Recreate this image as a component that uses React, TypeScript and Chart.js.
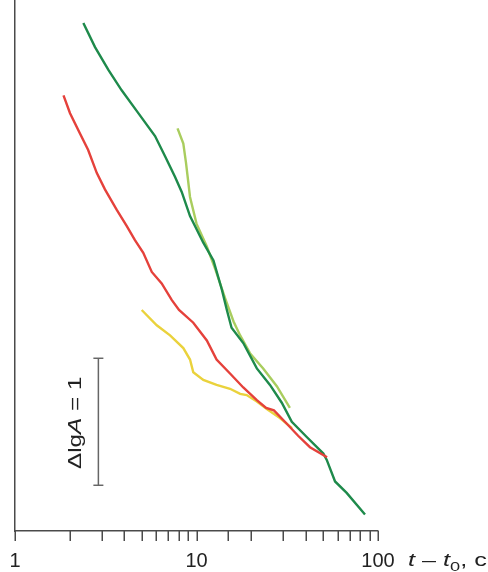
import React, { useEffect, useRef } from "react";
import { Chart, registerables } from "chart.js";

Chart.register(...registerables);

// x values: t - t0 (s), y values: lg A (arbitrary offset)
const darkGreenX = [2.38, 2.76, 3.27, 3.87, 4.78, 5.91, 6.71, 7.61, 8.29, 9.21, 10.9, 12.4, 13.8, 14.7, 15.6, 18.1, 21.5, 25.4, 29.5, 33.5, 40.5, 50.0, 52.2, 58.0, 67.2, 84.8];
const darkGreenY = [4.0, 3.81, 3.63, 3.47, 3.29, 3.11, 2.95, 2.79, 2.67, 2.48, 2.27, 2.13, 1.9, 1.74, 1.6, 1.48, 1.28, 1.15, 1.01, 0.86, 0.74, 0.61, 0.56, 0.39, 0.3, 0.13];

const lightGreenX = [7.86, 8.46, 8.75, 8.92, 9.21, 10.0, 11.4, 12.7, 14.4, 16.0, 17.4, 19.7, 23.3, 27.7, 32.7];
const lightGreenY = [3.17, 3.05, 2.9, 2.8, 2.63, 2.42, 2.24, 2.06, 1.83, 1.65, 1.54, 1.4, 1.28, 1.14, 0.97];

const redX = [1.85, 2.01, 2.28, 2.53, 2.82, 3.13, 3.63, 4.13, 4.58, 5.09, 5.67, 6.43, 7.3, 8.01, 9.6, 11.4, 12.9, 15.3, 18.1, 21.5, 24.2, 26.7, 30.7, 36.3, 42.2, 52.4];
const redY = [3.43, 3.29, 3.13, 3.0, 2.82, 2.69, 2.53, 2.4, 2.29, 2.19, 2.04, 1.95, 1.82, 1.74, 1.64, 1.5, 1.35, 1.24, 1.13, 1.03, 0.97, 0.95, 0.86, 0.75, 0.66, 0.58];

const yellowX = [4.99, 6.04, 7.15, 8.46, 9.21, 9.6, 10.9, 12.9, 15.3, 17.4, 18.9, 21.5, 24.4, 28.8, 33.6];
const yellowY = [1.74, 1.62, 1.54, 1.44, 1.35, 1.25, 1.19, 1.15, 1.12, 1.08, 1.07, 1.02, 0.96, 0.89, 0.81];

// scale bar: ΔlgA = 1
const scaleBarX = [2.88, 2.88];
const scaleBarY = [0.36, 1.36];

const xTickLabels = [1, 10, 100];
const X_MIN = 1;
const X_MAX = 100;
const Y_MIN = 0;
const Y_MAX = 4.181;

const FONT = "'Liberation Sans', Arial, sans-serif";
const AXIS_COLOR = "#4a4a4a";

const toPts = (xs: number[], ys: number[]) => xs.map((x, i) => ({ x, y: ys[i] }));

type Seg = { t: string; it?: boolean; sub?: boolean };

function drawRich(ctx: CanvasRenderingContext2D, segs: Seg[], size: number, align: "left" | "center") {
  const fontFor = (s: Seg) => `${s.it ? "italic " : ""}${s.sub ? Math.round(size * 0.7) : size}px ${FONT}`;
  let total = 0;
  for (const s of segs) {
    ctx.font = fontFor(s);
    total += ctx.measureText(s.t).width;
  }
  let x = align === "center" ? -total / 2 : 0;
  ctx.textBaseline = "middle";
  ctx.textAlign = "left";
  for (const s of segs) {
    ctx.font = fontFor(s);
    ctx.fillText(s.t, x, s.sub ? size * 0.35 : 0);
    x += ctx.measureText(s.t).width;
  }
}

const extraPlugin = {
  id: "extraText",
  afterDraw(chart: any) {
    const ctx: CanvasRenderingContext2D = chart.ctx;
    const xs = chart.scales.x;
    const ys = chart.scales.y;
    const bottom = chart.chartArea.bottom;

    // tick marks below the x axis, from the scale's own ticks
    ctx.save();
    ctx.strokeStyle = AXIS_COLOR;
    ctx.lineWidth = 1.5;
    ctx.beginPath();
    for (const t of xs.ticks) {
      const px = Math.round(xs.getPixelForValue(t.value)) + 0.25;
      ctx.moveTo(px, bottom);
      ctx.lineTo(px, bottom + 10);
    }
    ctx.stroke();
    ctx.restore();

    // rotated scale-bar label
    const bx = xs.getPixelForValue(scaleBarX[0]);
    const by = (ys.getPixelForValue(scaleBarY[0]) + ys.getPixelForValue(scaleBarY[1])) / 2;
    ctx.save();
    ctx.fillStyle = "#222";
    ctx.translate(bx - 22, by + 1);
    ctx.rotate(-Math.PI / 2);
    ctx.scale(1.35, 1);
    drawRich(ctx, [{ t: "\u0394lg" }, { t: "A", it: true }, { t: " = 1" }], 18, "center");
    ctx.restore();

    // x axis title
    ctx.save();
    ctx.fillStyle = "#222";
    ctx.translate(chart.chartArea.right + 30, 561);
    ctx.scale(1.4, 1);
    drawRich(ctx, [{ t: "t", it: true }, { t: " \u2013 " }, { t: "t", it: true }, { t: "0", sub: true }, { t: ", c" }], 18, "left");
    ctx.restore();
  },
};

export default function App() {
  const ref = useRef<HTMLCanvasElement | null>(null);
  useEffect(() => {
    if (!ref.current) return;
    const lineDs = (label: string, xs: number[], ys: number[], color: string, order: number) => ({
      label,
      data: toPts(xs, ys),
      borderColor: color,
      backgroundColor: color,
      borderWidth: 2.4,
      pointRadius: 0,
      tension: 0,
      fill: false,
      order,
    });
    const chart = new Chart(ref.current, {
      type: "line",
      data: {
        datasets: [
          lineDs("red", redX, redY, "#e5413b", 1),
          lineDs("darkgreen", darkGreenX, darkGreenY, "#1e8a4b", 2),
          lineDs("lightgreen", lightGreenX, lightGreenY, "#a9cd5e", 3),
          lineDs("yellow", yellowX, yellowY, "#ead23c", 4),
          {
            label: "scale",
            data: toPts(scaleBarX, scaleBarY),
            borderColor: "#666",
            backgroundColor: "#666",
            borderWidth: 1.5,
            pointStyle: "line",
            pointRadius: 5,
            pointBorderWidth: 1.5,
            pointBorderColor: "#666",
            order: 5,
          } as any,
        ],
      },
      options: {
        animation: false,
        responsive: false,
        devicePixelRatio: 1,
        layout: { autoPadding: false, padding: { left: 15, right: 110, top: 0, bottom: 0 } },
        plugins: { legend: { display: false }, tooltip: { enabled: false } },
        scales: {
          x: {
            type: "logarithmic",
            min: X_MIN,
            max: X_MAX,
            grid: {
              display: true,
              drawOnChartArea: false,
              drawTicks: true,
              tickLength: 20,
              color: AXIS_COLOR,
              tickColor: "rgba(0,0,0,0)",
              lineWidth: 1.5,
            },
            border: { display: true, color: AXIS_COLOR, width: 1.5 },
            ticks: {
              autoSkip: false,
              maxRotation: 0,
              padding: 0,
              color: "#222",
              font: { family: FONT, size: 20, lineHeight: 1.05 },
              callback: (v: any) => (xTickLabels.includes(Number(v)) ? String(v) : ""),
            },
          },
          y: {
            type: "linear",
            min: Y_MIN,
            max: Y_MAX,
            grid: { display: false, drawTicks: false },
            border: { display: true, color: AXIS_COLOR, width: 1.5 },
            ticks: { display: false },
          },
        },
      },
      plugins: [extraPlugin],
    } as any);
    return () => chart.destroy();
  }, []);
  return (
    <div style={{ position: "absolute", left: 0, top: 0, width: 488, height: 572, background: "#fff" }}>
      <canvas ref={ref} width={488} height={572} style={{ width: 488, height: 572, display: "block" }} />
    </div>
  );
}
